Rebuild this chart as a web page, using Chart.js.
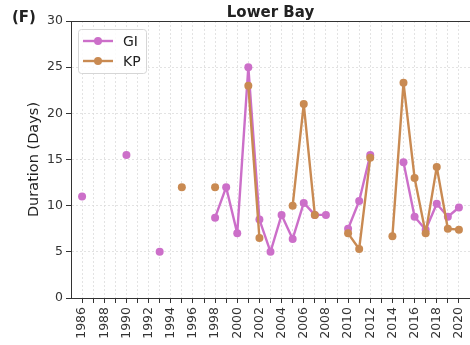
<!DOCTYPE html>
<html>
<head>
<meta charset="utf-8">
<script src="https://cdn.jsdelivr.net/npm/chart.js@4.4.0/dist/chart.umd.min.js"></script>
<style>
html, body { margin: 0; padding: 0; background: #fff; }
</style>
</head>
<body>
<canvas id="chart" width="470" height="345"></canvas>
<script>
// one entry per year, null = no event that year
const years = [1986, 1987, 1988, 1989, 1990, 1991, 1992, 1993, 1994, 1995,
               1996, 1997, 1998, 1999, 2000, 2001, 2002, 2003, 2004, 2005,
               2006, 2007, 2008, 2009, 2010, 2011, 2012, 2013, 2014, 2015,
               2016, 2017, 2018, 2019, 2020];
const gi = [11, null, null, null, 15.5, null, null, 5, null, null,
            null, null, 8.7, 12, 7, 25, 8.5, 5, 9, 6.4,
            10.3, 9, 9, null, 7.5, 10.5, 15.5, null, null, 14.7,
            8.8, 7.4, 10.2, 8.8, 9.8];
const kp = [null, null, null, null, null, null, null, null, null, 12,
            null, null, 12, null, null, 23, 6.5, null, null, 10,
            21, 9, null, null, 7, 5.3, 15.2, null, 6.7, 23.3,
            13, 7, 14.2, 7.5, 7.4];
const yTicks = [0, 5, 10, 15, 20, 25, 30];
const seriesNames = ['GI', 'KP'];
const seriesColors = ['#cc6fc9', '#c98a52'];

const FONT = 'DejaVu Sans';

function toPoints(vals) {
    return years.map(function (yr, i) { return { x: yr, y: vals[i] }; });
}

// title, panel letter, top spine and matplotlib style legend
const decorations = {
    id: 'decorations',
    afterDraw(chart) {
        const ctx = chart.ctx;
        const area = chart.chartArea;
        ctx.save();

        ctx.strokeStyle = '#333';
        ctx.lineWidth = 1;
        ctx.beginPath();
        ctx.moveTo(area.left, area.top + 0.5);
        ctx.lineTo(area.right, area.top + 0.5);
        ctx.stroke();

        ctx.fillStyle = '#222';
        ctx.textBaseline = 'alphabetic';
        ctx.font = 'bold 15px "' + FONT + '"';
        ctx.textAlign = 'center';
        ctx.fillText('Lower Bay', (area.left + area.right) / 2, 17);
        ctx.textAlign = 'left';
        ctx.fillText('(F)', 12, 22);

        // legend box
        let bx = 78.5, by = 29.5, bw = 68, bh = 44, r = 3;
        ctx.beginPath();
        ctx.moveTo(bx + r, by);
        ctx.lineTo(bx + bw - r, by);
        ctx.arcTo(bx + bw, by, bx + bw, by + r, r);
        ctx.lineTo(bx + bw, by + bh - r);
        ctx.arcTo(bx + bw, by + bh, bx + bw - r, by + bh, r);
        ctx.lineTo(bx + r, by + bh);
        ctx.arcTo(bx, by + bh, bx, by + bh - r, r);
        ctx.lineTo(bx, by + r);
        ctx.arcTo(bx, by, bx + r, by, r);
        ctx.closePath();
        ctx.fillStyle = 'rgba(255,255,255,0.85)';
        ctx.fill();
        ctx.strokeStyle = '#d6d6d6';
        ctx.stroke();

        ctx.font = '14px "' + FONT + '"';
        ctx.textBaseline = 'middle';
        for (let i = 0; i < seriesNames.length; i++) {
            let ly = 41 + i * 20;
            ctx.strokeStyle = seriesColors[i];
            ctx.lineWidth = 2.4;
            ctx.beginPath();
            ctx.moveTo(83, ly);
            ctx.lineTo(113, ly);
            ctx.stroke();
            ctx.fillStyle = seriesColors[i];
            ctx.beginPath();
            ctx.arc(98, ly, 4, 0, Math.PI * 2);
            ctx.fill();
            ctx.fillStyle = '#222';
            ctx.fillText(seriesNames[i], 123, ly + 1);
        }
        ctx.restore();
    }
};

const datasets = seriesNames.map(function (name, i) {
    return {
        label: name,
        data: toPoints(i === 0 ? gi : kp),
        borderColor: seriesColors[i],
        backgroundColor: seriesColors[i],
        pointBackgroundColor: seriesColors[i],
        pointBorderColor: seriesColors[i],
        pointBorderWidth: 0,
        pointRadius: 4,
        borderWidth: 2.4,
        borderJoinStyle: 'round',
        borderCapStyle: 'round',
        spanGaps: false,
        tension: 0,
        clip: false,
        order: i === 0 ? 1 : 0
    };
});

new Chart(document.getElementById('chart').getContext('2d'), {
    type: 'line',
    data: { datasets: datasets },
    options: {
        responsive: false,
        animation: false,
        layout: { autoPadding: false, padding: { top: 21, left: 0, right: 0, bottom: 0 } },
        plugins: {
            legend: { display: false },
            tooltip: { enabled: false }
        },
        scales: {
            x: {
                type: 'linear',
                min: 1985,
                max: 2021,
                afterBuildTicks: function (scale) {
                    scale.ticks = years.map(function (v) { return { value: v }; });
                },
                afterFit: function (scale) {
                    scale.height = 47;
                    scale.paddingLeft = 0;
                    scale.paddingRight = 0;
                },
                ticks: {
                    autoSkip: false,
                    minRotation: 90,
                    maxRotation: 90,
                    padding: 4,
                    color: '#333',
                    font: { family: FONT, size: 12.5 },
                    callback: function (v) { return v % 2 === 0 ? String(v) : ''; }
                },
                grid: {
                    color: '#dcdcdc',
                    lineWidth: 0.8,
                    tickColor: '#333',
                    tickLength: 5,
                    tickWidth: 1,
                    tickBorderDash: []
                },
                border: { display: true, color: '#333', width: 1, dash: [2, 2] }
            },
            y: {
                min: 0,
                max: 30,
                afterBuildTicks: function (scale) {
                    scale.ticks = yTicks.map(function (v) { return { value: v }; });
                },
                afterFit: function (scale) {
                    scale.width = 71;
                    scale.paddingTop = 0;
                    scale.paddingBottom = 0;
                },
                ticks: {
                    padding: 3,
                    color: '#333',
                    font: { family: FONT, size: 12.5 }
                },
                grid: {
                    color: '#dcdcdc',
                    lineWidth: 0.8,
                    tickColor: '#333',
                    tickLength: 5,
                    tickWidth: 1,
                    tickBorderDash: []
                },
                border: { display: true, color: '#333', width: 1, dash: [2, 2] },
                title: {
                    display: true,
                    text: 'Duration (Days)',
                    color: '#222',
                    font: { family: FONT, size: 14.5 },
                    padding: { top: 26, bottom: 0 }
                }
            }
        }
    },
    plugins: [decorations]
});
</script>
</body>
</html>
